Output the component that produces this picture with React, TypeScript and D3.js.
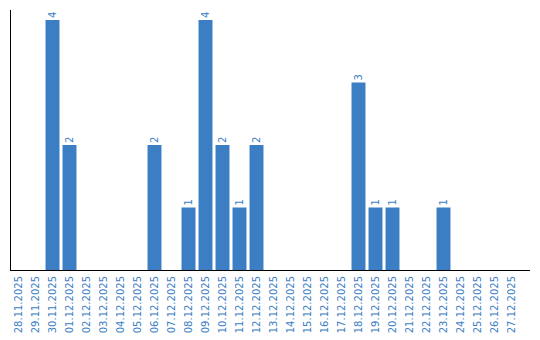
import React from "react";
import * as d3 from "d3";

const dates = [
  "28.11.2025","29.11.2025","30.11.2025","01.12.2025","02.12.2025","03.12.2025","04.12.2025","05.12.2025",
  "06.12.2025","07.12.2025","08.12.2025","09.12.2025","10.12.2025","11.12.2025","12.12.2025","13.12.2025",
  "14.12.2025","15.12.2025","16.12.2025","17.12.2025","18.12.2025","19.12.2025","20.12.2025","21.12.2025",
  "22.12.2025","23.12.2025","24.12.2025","25.12.2025","26.12.2025","27.12.2025",
];
const counts = [0,0,4,2,0,0,0,0,2,0,1,4,2,1,2,0,0,0,0,0,3,1,1,0,0,1,0,0,0,0];

const W = 540, H = 340;
const left = 10, right = 530, top = 10, bottom = 270;
const color = "#3b7ec3";

export default function App() {
  const x = d3.scaleBand<string>().domain(dates).range([left, 520]).paddingInner(0.18).paddingOuter(0.09);
  const y = d3.scaleLinear().domain([0, 4]).range([bottom, 20]);
  const font = "DejaVu Sans, sans-serif";
  return (
    <svg width={W} height={H} style={{ position: "absolute", left: 0, top: 0 }}>
      {dates.map((d, i) => {
        const v = counts[i];
        if (!v) return null;
        const bx = x(d)!;
        return (
          <g key={d}>
            <rect x={bx} y={y(v)} width={x.bandwidth()} height={bottom - y(v)} fill={color} />
            <text
              transform={`translate(${bx + x.bandwidth() / 2},${y(v) - 2}) rotate(-90)`}
              dy="0.35em"
              fontSize={10}
              fontFamily={font}
              fill={color}
            >{v}</text>
          </g>
        );
      })}
      <line x1={left + 0.5} x2={left + 0.5} y1={top} y2={bottom} stroke="#000" />
      <line x1={left} x2={right} y1={bottom + 0.5} y2={bottom + 0.5} stroke="#000" />
      {dates.map((d) => (
        <text
          key={d}
          transform={`translate(${x(d)! + x.bandwidth() / 2},${bottom + 6}) rotate(-90)`}
          dy="0.35em"
          textAnchor="end"
          fontSize={10}
          fontFamily={font}
          fill={color}
        >{d}</text>
      ))}
    </svg>
  );
}
